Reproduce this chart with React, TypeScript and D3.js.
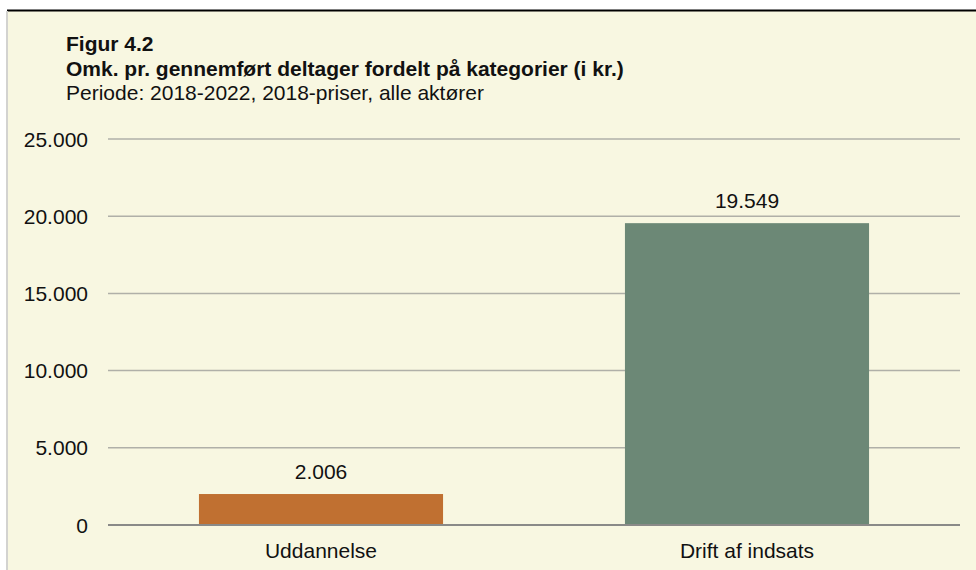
import React from "react";
import * as d3 from "d3";

const categories = ["Uddannelse", "Drift af indsats"];
const values = [2006, 19549];
const barColors = ["#C07031", "#6C8876"];
const yTicks = [0, 5000, 10000, 15000, 20000, 25000];
const titleLines = [
  "Figur 4.2",
  "Omk. pr. gennemført deltager fordelt på kategorier (i kr.)",
];
const subtitle = "Periode: 2018-2022, 2018-priser, alle aktører";

const W = 976;
const H = 570;
const fmt = (v: number) => d3.format(",")(v).replace(/,/g, ".");

export default function App() {
  const x = d3.scaleBand<string>().domain(categories).range([108, 960]).padding(0);
  const y = d3.scaleLinear().domain([0, 25000]).range([525, 139]);
  const barW = x.bandwidth() * 0.573;
  const font = "'Liberation Sans', Arial, Helvetica, sans-serif";
  const fs = 21;
  return (
    <svg
      width={W}
      height={H}
      style={{ position: "absolute", left: 0, top: 0, fontFamily: font }}
    >
      <rect x={8} y={11} width={W - 8} height={H - 11} fill="#F8F7E1" />
      <line x1={7} x2={W} y1={10.5} y2={10.5} stroke="#000" strokeWidth={2} />
      <line x1={7} x2={7} y1={11} y2={H} stroke="#D3D3D0" strokeWidth={2} />
      <text x={66} y={51} fontSize={fs} fontWeight="bold" fill="#111">
        {titleLines[0]}
      </text>
      <text x={66} y={75.5} fontSize={fs} fontWeight="bold" fill="#111">
        {titleLines[1]}
      </text>
      <text x={66} y={100} fontSize={fs} fill="#111">
        {subtitle}
      </text>
      {yTicks.map((t) => (
        <g key={t}>
          {t !== 0 && (
            <line
              x1={108}
              x2={960}
              y1={y(t)}
              y2={y(t)}
              stroke="#B0B0A8"
              strokeWidth={1.5}
            />
          )}
          <text
            x={88}
            y={y(t)}
            dy="0.36em"
            textAnchor="end"
            fontSize={fs}
            fill="#111"
          >
            {fmt(t)}
          </text>
        </g>
      ))}
      {categories.map((c, i) => {
        const cx = (x(c) as number) + x.bandwidth() / 2;
        return (
          <g key={c}>
            <rect
              x={cx - barW / 2}
              y={y(values[i])}
              width={barW}
              height={y(0) - y(values[i])}
              fill={barColors[i]}
            />
            <text
              x={cx}
              y={y(values[i]) - 15.5}
              textAnchor="middle"
              fontSize={fs}
              fill="#111"
            >
              {fmt(values[i])}
            </text>
            <text
              x={cx}
              y={557.5}
              textAnchor="middle"
              fontSize={fs}
              fill="#111"
            >
              {c}
            </text>
          </g>
        );
      })}
      <line x1={108} x2={960} y1={y(0)} y2={y(0)} stroke="#8A8A88" strokeWidth={2} />
    </svg>
  );
}
